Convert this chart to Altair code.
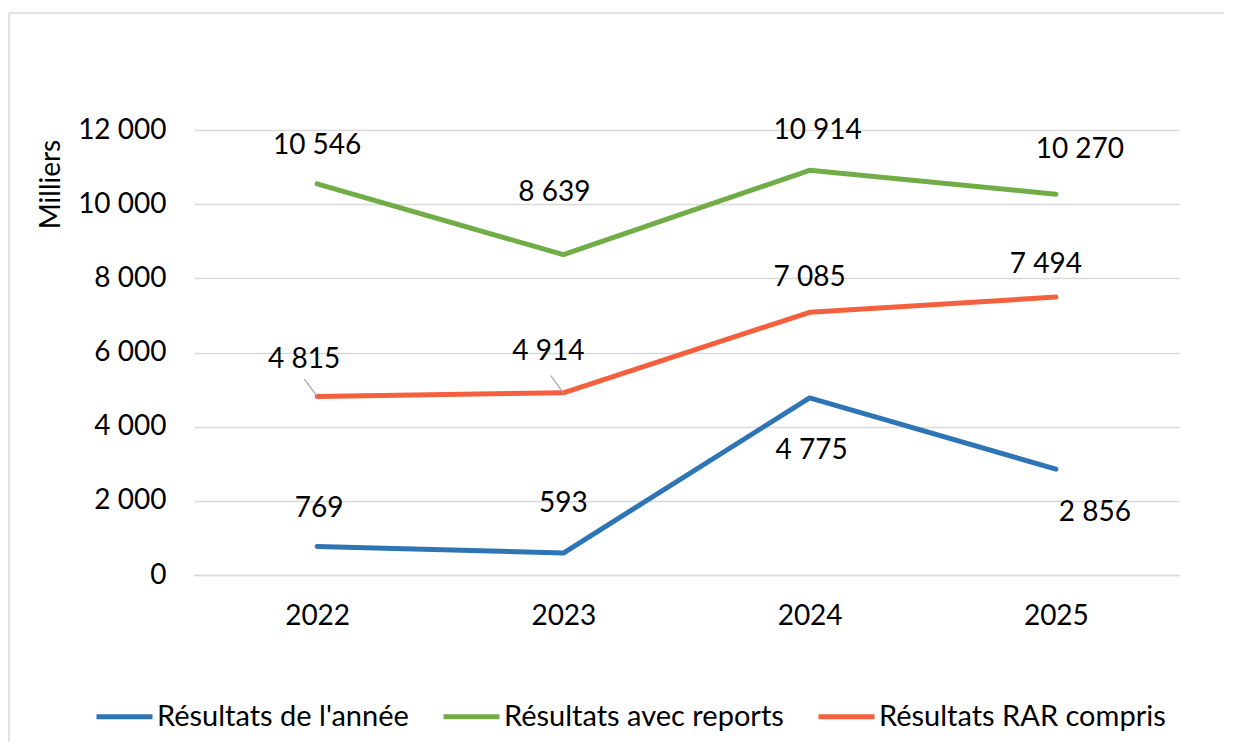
import altair as alt
import pandas as pd

# ---- data ----
years = ["2022", "2023", "2024", "2025"]
series_names = ["Résultats de l'année", "Résultats avec reports", "Résultats RAR compris"]
resultats_annee = [769, 593, 4775, 2856]
resultats_reports = [10546, 8639, 10914, 10270]
resultats_rar = [4815, 4914, 7085, 7494]
series_values = [resultats_annee, resultats_reports, resultats_rar]
colors = ["#2E75B6", "#70AD47", "#F4603E"]
y_ticks = [0, 2000, 4000, 6000, 8000, 10000, 12000]

# label nudges (pixels) as placed in the original chart
label_dx = [[2, 0, 2, 39], [0, -9, 8, 24], [-13, -15, 0, -10]]
label_dy = [[-37, -49, 53, 44], [-38, -62, -39, -44], [-36, -41, -34, -32]]
# labels that get a leader line
leader = [[0, 0, 0, 0], [0, 0, 0, 0], [1, 1, 0, 0]]

rows = []
for s, name in enumerate(series_names):
    for i, yr in enumerate(years):
        rows.append({
            "year": yr,
            "series": name,
            "value": series_values[s][i],
            "leader": leader[s][i],
        })
df = pd.DataFrame(rows)

FONT = "Lato"
FS = 28
GRID = "#D9D9D9"

base = alt.Chart(df)

x_enc = alt.X(
    "year:O",
    title=None,
    axis=alt.Axis(
        labelAngle=0, labelFont=FONT, labelFontSize=FS, labelColor="black",
        labelPadding=27, ticks=False, tickSize=0, domain=True,
        domainColor=GRID, domainWidth=1.5, grid=False,
    ),
)
y_enc = alt.Y(
    "value:Q",
    scale=alt.Scale(domain=[0, 12000], nice=False),
    axis=alt.Axis(
        title="Milliers", values=y_ticks,
        labelExpr="replace(format(datum.value, ','), ',', ' ')",
        labelFont=FONT, labelFontSize=FS, labelColor="black", labelPadding=28,
        ticks=False, tickSize=0, domain=False,
        gridColor=GRID, gridWidth=1.5,
        titleFont=FONT, titleFontSize=FS, titleColor="black", titleFontWeight="normal",
        titleAngle=270, titleX=-143, titleY=54, titleAlign="center", titleBaseline="middle",
    ),
)

lines = base.mark_line(strokeWidth=5, strokeCap="round", strokeJoin="round").encode(
    x=x_enc,
    y=y_enc,
    color=alt.Color(
        "series:N",
        scale=alt.Scale(domain=series_names, range=colors),
        legend=alt.Legend(
            title=None, orient="none", legendX=-100, legendY=556, direction="horizontal",
            symbolType="stroke", symbolSize=3136, symbolStrokeWidth=5,
            labelFont=FONT, labelFontSize=29, labelColor="black", labelOffset=2,
            labelLimit=0, columnPadding=24, padding=0,
        ),
    ),
)

# one text layer per data label, nudged like the original
label_layers = []
for s, name in enumerate(series_names):
    for i, yr in enumerate(years):
        layer = base.transform_filter(
            (alt.datum.series == name) & (alt.datum.year == yr)
        ).transform_calculate(
            label="replace(format(datum.value, ','), ',', ' ')"
        ).mark_text(
            font=FONT, fontSize=FS, color="black", baseline="middle", align="center",
            dx=label_dx[s][i], dy=label_dy[s][i],
        ).encode(
            x=alt.X("year:O"),
            y=alt.Y("value:Q"),
            text="label:N",
        )
        label_layers.append(layer)

leaders = base.transform_filter(alt.datum.leader == 1).mark_point(
    shape="M0,0L-0.85,-1.15", size=900, filled=False, color="#A6A6A6",
    strokeWidth=1.2, opacity=1,
).encode(x=alt.X("year:O"), y=alt.Y("value:Q"))

frame_df = pd.DataFrame({"k": [0]})
top_rule = alt.Chart(frame_df).mark_rule(color=GRID, strokeWidth=1.5).encode(
    x=alt.value(-185), x2=alt.value(1030), y=alt.value(-117)
)
left_rule = alt.Chart(frame_df).mark_rule(color=GRID, strokeWidth=1.5).encode(
    x=alt.value(-185), y=alt.value(-117), y2=alt.value(612)
)

chart = alt.layer(top_rule, left_rule, lines, leaders, *label_layers).properties(
    width=985, height=445,
    padding={"left": 0, "top": 4, "right": 0, "bottom": 0},
).configure_view(stroke=None)

chart.save("out.html", embed_options={"renderer": "svg", "actions": False})
